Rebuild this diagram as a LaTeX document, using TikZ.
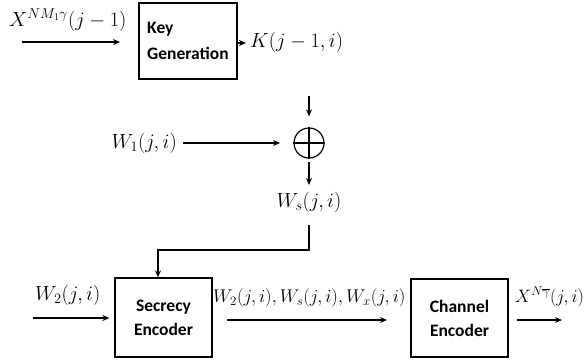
\RequirePackage{fix-cm}
\documentclass[tikz,border=0pt]{standalone}
\usepackage{fontspec}
\setmainfont{Carlito}
\usetikzlibrary{arrows.meta}
\begin{document}
\begin{tikzpicture}[x=1pt,y=-1pt,
  every node/.style={font=\fontsize{20.5}{24}\selectfont},
  blk/.style={draw,line width=1.2pt,align=left,inner sep=0pt,font=\fontsize{17.5}{24}\selectfont\bfseries},
  arr/.style={line width=1.2pt,-{Stealth[length=7pt,width=6pt]}},
  ln/.style={line width=1.2pt},
  lbl/.style={inner sep=0pt}]
\useasboundingbox (0,0) rectangle (586,362);
% boxes
\node[blk,minimum width=98pt,minimum height=76pt] (kg) at (188,41) {Key\\[2pt]Generation};
\node[blk,minimum width=97pt,minimum height=79pt,align=center] (se) at (163.5,317.5) {Secrecy\\Encoder};
\node[blk,minimum width=97pt,minimum height=78pt,align=center] (ce) at (459.5,318) {Channel\\Encoder};
\node[draw,circle,line width=1.2pt,minimum size=30pt,inner sep=0pt] (xor) at (309,143) {};
\draw[line width=1.2pt] (xor.north) -- (xor.south) (xor.west) -- (xor.east);
% labels
\node[lbl,anchor=west] (lx) at (9,20) {$X^{NM_1\gamma}(j-1)$};
\node[lbl,anchor=west] (lk) at (250,42) {$K(j-1,i)$};
\node[lbl,anchor=east] (lw1) at (177,143) {$W_1(j,i)$};
\node[lbl] (lws) at (309,202) {$W_s(j,i)$};
\node[lbl,anchor=west] (lw2) at (35,295) {$W_2(j,i)$};
\node[lbl,anchor=west,font=\fontsize{18.4}{24}\selectfont] (lmid) at (213,298) {$W_2(j,i),W_s(j,i),W_x(j,i)$};
\node[lbl,anchor=west,font=\fontsize{18}{24}\selectfont] (lout) at (515,297) {$X^{N\overline{\gamma}}(j,i)$};
% coordinates
\coordinate (a0) at (22,42);
\coordinate (a1) at (120,42);
\coordinate (k1) at (246,43);
\coordinate (k2) at (309,96);
\coordinate (w1a) at (183,143);
\coordinate (w1b) at (280,143);
\coordinate (s0) at (309,162);
\coordinate (s1) at (309,185);
\coordinate (c0) at (309,225);
\coordinate (c1) at (309,250);
\coordinate (c2) at (158,250);
\coordinate (w2a) at (33,318);
\coordinate (m1) at (227,320);
\coordinate (m2) at (387,320);
\coordinate (o1) at (517,320);
\coordinate (o2) at (562,320);
% connectors
\draw[arr] (a0) -- (a1);
\draw[arr] (kg.east |- k1) -- (k1);
\draw[arr] (k2) -- ([yshift=11pt]xor.north);
\draw[arr] (s0) -- (s1);
\draw[arr] (w1a) -- (w1b);
\draw[arr] (c0) -- (c1) -- (c2) -- (c2 |- se.north);
\draw[arr] (w2a) -- ([xshift=-5pt]se.west |- w2a);
\draw[arr] (m1) -- (m2);
\draw[arr] (o1) -- (o2);
\end{tikzpicture}
\end{document}
